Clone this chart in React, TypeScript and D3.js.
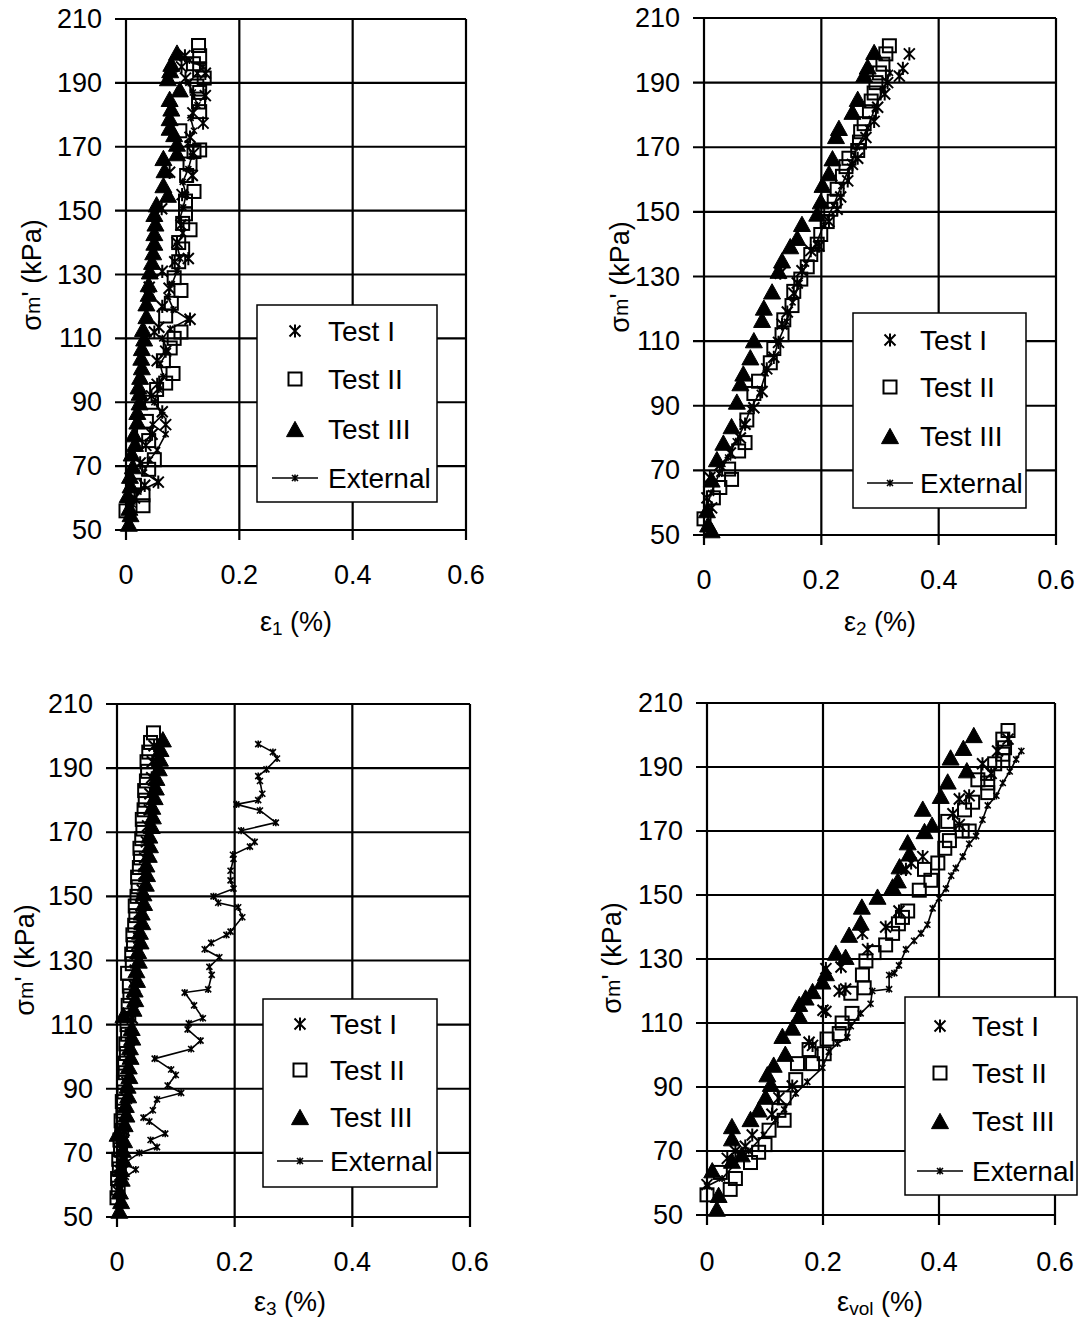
import React from 'react';
import * as d3 from 'd3';

type Pt = [number, number];

// Axis ticks shared by all four panels
const yTicks = [50, 70, 90, 110, 130, 150, 170, 190, 210];
const xTicks = [0, 0.2, 0.4, 0.6];
const xTickLabels = ['0', '0.2', '0.4', '0.6'];
const seriesNames = ['Test I', 'Test II', 'Test III', 'External'];

// ---- ε1 (%) vs σm' (kPa) ----
const e1TestI: Pt[] = [
  [0.015, 60], [0.033, 64], [0.057, 65], [0.025, 71], [0.035, 76.5], [0.046, 80], [0.07, 83],
  [0.064, 87], [0.045, 92], [0.055, 95.6], [0.055, 103], [0.07, 106], [0.05, 112], [0.058, 113.5],
  [0.113, 116], [0.064, 120], [0.076, 125.7], [0.041, 126], [0.064, 131], [0.086, 134], [0.11, 135],
  [0.09, 140], [0.097, 145.5], [0.063, 150.6], [0.099, 155], [0.117, 161], [0.077, 162], [0.119, 168],
  [0.113, 173], [0.136, 177.4], [0.118, 180.6], [0.14, 186], [0.105, 191.5], [0.14, 193], [0.098, 195],
  [0.104, 198.5],
];
const e1TestII: Pt[] = [
  [0, 56], [0.03, 57.6], [0.03, 61], [0.015, 64], [0.04, 69], [0.05, 72], [0.04, 78], [0.031, 80],
  [0.036, 84], [0.045, 90], [0.054, 94], [0.07, 96], [0.083, 99], [0.066, 103], [0.078, 107],
  [0.085, 110], [0.097, 112], [0.07, 117], [0.08, 121], [0.097, 125], [0.085, 129], [0.093, 134],
  [0.1, 138], [0.093, 140], [0.113, 144], [0.1, 146], [0.105, 149], [0.105, 153], [0.12, 156],
  [0.107, 161], [0.113, 164.6], [0.12, 168.5], [0.13, 169], [0.095, 175], [0.13, 181], [0.128, 184],
  [0.13, 187], [0.125, 189], [0.138, 191.5], [0.13, 194], [0.119, 196], [0.13, 198.5], [0.128, 201.7],
];
const e1TestIII: Pt[] = [
  [0.005, 52], [0.008, 55], [0.006, 57], [0.003, 61], [0.008, 64], [0.007, 67], [0.012, 70], [0.01, 74],
  [0.016, 77], [0.014, 80], [0.02, 84], [0.02, 87], [0.024, 90], [0.024, 93], [0.022, 95], [0.025, 98],
  [0.028, 101], [0.027, 104], [0.028, 107], [0.032, 110], [0.03, 113], [0.036, 117], [0.036, 121],
  [0.04, 124], [0.04, 127], [0.042, 131], [0.046, 134], [0.048, 137], [0.05, 140], [0.05, 143],
  [0.052, 146], [0.05, 149], [0.054, 152], [0.074, 155], [0.066, 158], [0.068, 162.7], [0.066, 166.5],
  [0.09, 168], [0.09, 171], [0.085, 174], [0.077, 176], [0.077, 179], [0.08, 182], [0.077, 185],
  [0.095, 188], [0.074, 191.5], [0.078, 194], [0.08, 196], [0.09, 199.5],
];
const e1External: Pt[] = [
  [0.012, 58], [0.022, 62], [0.057, 65], [0.032, 68], [0.042, 72], [0.055, 75], [0.07, 80],
  [0.047, 83], [0.064, 86], [0.05, 90], [0.058, 94], [0.066, 98], [0.06, 102], [0.074, 106],
  [0.064, 110], [0.078, 113], [0.11, 116], [0.084, 119], [0.074, 123], [0.081, 127], [0.09, 131],
  [0.096, 135], [0.09, 139], [0.1, 143], [0.094, 147], [0.101, 151], [0.106, 155], [0.1, 159],
  [0.11, 163], [0.116, 167], [0.109, 171], [0.12, 175], [0.114, 179], [0.126, 183], [0.118, 187],
  [0.11, 190], [0.126, 193], [0.136, 195], [0.112, 197],
];

// ---- ε2 (%) vs σm' (kPa) ----
const e2TestI: Pt[] = [
  [0.013, 58.4], [0.005, 61.5], [0.01, 67.8], [0.027, 71.6], [0.045, 75.4], [0.062, 80], [0.07, 84.3],
  [0.085, 89.4], [0.099, 94.4], [0.107, 101.4], [0.119, 105], [0.127, 109.6], [0.133, 115.3],
  [0.142, 119], [0.153, 124.8], [0.159, 128], [0.13, 131], [0.167, 131.8], [0.182, 138], [0.196, 139.4],
  [0.213, 147], [0.227, 150.8], [0.233, 154.6], [0.245, 159.6], [0.253, 164.7], [0.262, 166.6],
  [0.276, 173], [0.29, 178], [0.296, 182.4], [0.308, 186.5], [0.313, 190], [0.333, 192], [0.339, 194.4],
  [0.35, 198.9],
];
const e2TestII: Pt[] = [
  [0, 55], [0.016, 61.5], [0.027, 64.7], [0.042, 70.4], [0.047, 67.2], [0.059, 76], [0.07, 78.6],
  [0.073, 85.6], [0.085, 93.8], [0.093, 97.6], [0.113, 103.3], [0.119, 107.7], [0.133, 112],
  [0.136, 116.6], [0.15, 121], [0.153, 125.4], [0.165, 129.2], [0.176, 133], [0.182, 136.8],
  [0.193, 140], [0.199, 143], [0.21, 147], [0.216, 150.8], [0.222, 153.3], [0.227, 157], [0.236, 161],
  [0.242, 164], [0.247, 166.6], [0.262, 169], [0.265, 171.6], [0.267, 174.8], [0.273, 177.3],
  [0.282, 181], [0.285, 184.3], [0.29, 186.8], [0.293, 190], [0.299, 193], [0.305, 195.7],
  [0.31, 198.9], [0.316, 201.4],
];
const e2TestIII: Pt[] = [
  [0.013, 51.5], [0.007, 53.3], [0.005, 57.7], [0.013, 67.2], [0.022, 73.5], [0.033, 78.6],
  [0.047, 83.7], [0.056, 91.3], [0.062, 97], [0.067, 100], [0.079, 105], [0.085, 110.3], [0.099, 116.6],
  [0.102, 120.4], [0.116, 125.4], [0.127, 131.8], [0.133, 135], [0.147, 139.4], [0.159, 142],
  [0.167, 146.3], [0.193, 149.5], [0.199, 153.3], [0.202, 158.4], [0.213, 162], [0.219, 166.6],
  [0.225, 173.5], [0.23, 176], [0.253, 181], [0.262, 185], [0.273, 192.5], [0.279, 195], [0.29, 199.5],
];
const e2External: Pt[] = [
  [0.004, 58], [0.012, 63], [0.026, 69], [0.041, 74], [0.054, 79], [0.069, 84], [0.079, 89],
  [0.095, 94], [0.105, 100], [0.119, 105], [0.127, 110], [0.141, 116], [0.151, 122], [0.163, 128],
  [0.174, 134], [0.191, 140], [0.204, 146], [0.221, 152], [0.234, 158], [0.249, 164], [0.261, 170],
  [0.279, 176], [0.291, 182], [0.306, 188], [0.317, 193],
];

// ---- ε3 (%) vs σm' (kPa) ----
const e3TestI: Pt[] = [
  [0.002, 58], [0.005, 63], [0.008, 67], [0.009, 72], [0.012, 77], [0.013, 82], [0.016, 87],
  [0.017, 92], [0.02, 97], [0.021, 102], [0.023, 107], [0.026, 112], [0.027, 117], [0.03, 122],
  [0.031, 127], [0.034, 132], [0.037, 137], [0.038, 142], [0.041, 147], [0.043, 152], [0.046, 157],
  [0.047, 162], [0.05, 167], [0.052, 172], [0.055, 177], [0.056, 182], [0.059, 187], [0.06, 192],
  [0.063, 197],
];
const e3TestII: Pt[] = [
  [0, 56], [0.002, 59], [0.001, 62], [0.004, 65], [0.003, 68], [0.006, 71], [0.005, 74], [0.008, 77],
  [0.007, 80], [0.01, 83], [0.009, 86], [0.012, 89], [0.011, 92], [0.014, 95], [0.013, 98], [0.016, 101],
  [0.015, 104], [0.018, 107], [0.017, 110], [0.02, 113], [0.019, 116], [0.022, 119], [0.021, 122],
  [0.018, 126], [0.026, 129], [0.025, 132], [0.028, 135], [0.027, 138], [0.03, 141], [0.032, 144],
  [0.031, 147], [0.034, 150], [0.036, 153], [0.035, 156], [0.038, 159], [0.04, 162], [0.039, 165],
  [0.042, 168], [0.044, 171], [0.043, 174], [0.046, 177], [0.048, 180], [0.047, 183], [0.05, 186],
  [0.052, 189], [0.051, 192], [0.054, 195], [0.057, 198], [0.062, 201],
];
const e3TestIII: Pt[] = [
  [0.004, 52], [0.007, 55], [0.005, 58], [0.008, 62], [0.007, 65], [0.011, 68], [0.01, 71], [0.012, 74],
  [0.001, 76], [0.013, 79], [0.016, 82], [0.015, 85], [0.019, 88], [0.018, 91], [0.021, 94], [0.02, 97],
  [0.023, 100], [0.022, 103], [0.026, 106], [0.025, 109], [0.011, 113], [0.028, 115], [0.031, 118],
  [0.03, 121], [0.034, 124], [0.033, 127], [0.037, 130], [0.036, 133], [0.04, 136], [0.039, 139],
  [0.043, 142], [0.042, 145], [0.046, 148], [0.045, 151], [0.049, 154], [0.051, 157], [0.05, 160],
  [0.054, 163], [0.056, 166], [0.055, 169], [0.059, 172], [0.061, 175], [0.06, 178], [0.064, 181],
  [0.066, 184], [0.067, 187], [0.071, 190], [0.073, 193], [0.074, 196], [0.078, 199],
];
const e3External: Pt[] = [
  [0.005, 60], [0.015, 62.5], [0.032, 64.8], [0.0125, 66.7], [0.038, 70], [0.068, 71.8], [0.057, 74],
  [0.082, 76], [0.055, 79.8], [0.045, 81], [0.061, 83.3], [0.068, 86.7], [0.109, 88.7], [0.086, 91],
  [0.1, 94.3], [0.092, 96], [0.064, 99.4], [0.126, 102.4], [0.142, 105], [0.12, 108.5], [0.122, 110.4],
  [0.146, 112], [0.131, 116], [0.115, 120], [0.155, 121], [0.161, 125.5], [0.157, 128], [0.174, 131],
  [0.149, 133.5], [0.16, 135.5], [0.186, 138], [0.193, 139], [0.213, 143.5], [0.206, 146.6],
  [0.172, 148], [0.164, 150], [0.198, 152.4], [0.193, 155], [0.193, 158], [0.198, 161.7], [0.197, 163],
  [0.226, 165.5], [0.234, 167], [0.211, 170.5], [0.27, 173], [0.243, 176.8], [0.203, 178.7], [0.24, 180],
  [0.247, 182], [0.243, 186], [0.24, 187.5], [0.254, 189.6], [0.272, 193], [0.265, 195], [0.24, 197.5],
];

// ---- εvol (%) vs σm' (kPa) ----
const evTestI: Pt[] = [
  [0, 59.5], [0.035, 67.7], [0.049, 70], [0.066, 71.5], [0.078, 75], [0.112, 81.5], [0.124, 86.6],
  [0.147, 90.3], [0.176, 104], [0.182, 103], [0.2, 114], [0.205, 113.6], [0.228, 120], [0.239, 120.6],
  [0.205, 127], [0.231, 127.5], [0.277, 133], [0.268, 138], [0.308, 140], [0.331, 145], [0.343, 158],
  [0.352, 160], [0.372, 162], [0.435, 172], [0.424, 175.4], [0.435, 180], [0.452, 181], [0.49, 188],
  [0.475, 191], [0.501, 195], [0.519, 198.7],
];
const evTestII: Pt[] = [
  [0, 56.3], [0.04, 58], [0.049, 61.4], [0.023, 63.3], [0.075, 66.4], [0.089, 69.6], [0.1, 72],
  [0.107, 76.5], [0.133, 79.6], [0.124, 82.7], [0.133, 86.6], [0.153, 92.3], [0.156, 97.3],
  [0.182, 97.3], [0.202, 100.4], [0.176, 101.7], [0.207, 105], [0.228, 106.7], [0.233, 110], [0.25, 113],
  [0.248, 119.3], [0.271, 121], [0.268, 125], [0.274, 129.4], [0.288, 132], [0.308, 134.4], [0.32, 138],
  [0.33, 141], [0.337, 143], [0.346, 145], [0.366, 151.5], [0.386, 154.6], [0.375, 158], [0.398, 160],
  [0.41, 164.6], [0.418, 167], [0.44, 170], [0.452, 170], [0.415, 173], [0.444, 176.6], [0.458, 179],
  [0.484, 182], [0.484, 185], [0.467, 186], [0.484, 188], [0.496, 191], [0.51, 192], [0.51, 194],
  [0.513, 196], [0.51, 198.7], [0.519, 201.4],
];
const evTestIII: Pt[] = [
  [0.017, 52], [0.02, 56.3], [0.009, 64], [0.043, 67], [0.06, 69], [0.043, 74], [0.043, 77.8],
  [0.075, 80], [0.089, 83], [0.101, 87], [0.11, 91], [0.104, 94], [0.115, 97], [0.135, 100.4],
  [0.13, 106], [0.147, 108.6], [0.159, 112.4], [0.159, 116], [0.17, 118], [0.182, 120], [0.199, 123],
  [0.205, 125.6], [0.239, 130.7], [0.222, 132], [0.245, 137.6], [0.265, 141.4], [0.267, 146.4],
  [0.294, 149.5], [0.32, 152.7], [0.329, 154.6], [0.332, 159], [0.349, 163], [0.346, 166.5],
  [0.375, 170], [0.388, 172], [0.372, 177], [0.403, 181], [0.415, 185.5], [0.448, 189], [0.42, 193],
  [0.442, 196], [0.46, 200],
];
const evExternal: Pt[] = [
  [0, 59], [0.026, 61.4], [0.049, 66], [0.072, 70], [0.098, 75], [0.118, 79.6], [0.133, 83],
  [0.153, 88], [0.173, 91.6], [0.199, 96], [0.21, 101], [0.225, 103.6], [0.242, 105.5], [0.248, 109],
  [0.265, 113], [0.282, 116], [0.285, 120], [0.314, 120.6], [0.314, 125], [0.323, 125.6], [0.331, 128],
  [0.343, 133], [0.357, 135.7], [0.369, 138], [0.38, 140.7], [0.389, 145.8], [0.4, 149], [0.412, 152],
  [0.421, 156], [0.429, 158.4], [0.441, 162], [0.452, 166], [0.464, 168.4], [0.475, 173.5], [0.484, 178],
  [0.499, 181], [0.51, 185], [0.522, 188.6], [0.533, 192.4], [0.542, 195],
];

// Frame geometry of each panel (pixels)
interface Frame {
  left: number; right: number; top: number; bottom: number;
  xTickY: number; xTitleX: number; xTitleY: number;
  yTitleX: number; yTitleY: number;
  legend: { x: number; y: number; w: number; h: number; rows: number[]; markerX: number; textX: number };
}

interface PanelDef {
  sub: string;
  series: [Pt[], Pt[], Pt[], Pt[]];
  frame: Frame;
}

const panels: PanelDef[] = [
  {
    sub: '1',
    series: [e1TestI, e1TestII, e1TestIII, e1External],
    frame: {
      left: 126, right: 466, top: 19, bottom: 530, xTickY: 575, xTitleX: 296, xTitleY: 622,
      yTitleX: 32, yTitleY: 275,
      legend: { x: 257, y: 305, w: 180, h: 197, rows: [331, 379, 429, 478], markerX: 295, textX: 328 },
    },
  },
  {
    sub: '2',
    series: [e2TestI, e2TestII, e2TestIII, e2External],
    frame: {
      left: 704, right: 1056, top: 18, bottom: 535, xTickY: 580, xTitleX: 880, xTitleY: 622,
      yTitleX: 620, yTitleY: 277,
      legend: { x: 853, y: 313, w: 173, h: 195, rows: [340, 387, 436, 483], markerX: 890, textX: 920 },
    },
  },
  {
    sub: '3',
    series: [e3TestI, e3TestII, e3TestIII, e3External],
    frame: {
      left: 117, right: 470, top: 704, bottom: 1217, xTickY: 1262, xTitleX: 290, xTitleY: 1302,
      yTitleX: 25, yTitleY: 960,
      legend: { x: 263, y: 999, w: 174, h: 188, rows: [1024, 1070, 1117, 1161], markerX: 300, textX: 330 },
    },
  },
  {
    sub: 'vol',
    series: [evTestI, evTestII, evTestIII, evExternal],
    frame: {
      left: 707, right: 1055, top: 703, bottom: 1215, xTickY: 1262, xTitleX: 880, xTitleY: 1302,
      yTitleX: 612, yTitleY: 958,
      legend: { x: 905, y: 997, w: 172, h: 198, rows: [1026, 1073, 1121, 1171], markerX: 940, textX: 972 },
    },
  },
];

const FONT = "'Liberation Sans', Arial, sans-serif";

function Asterisk({ x, y, r, w }: { x: number; y: number; r: number; w: number }) {
  const d = `M${x - r},${y - r}L${x + r},${y + r}M${x - r},${y + r}L${x + r},${y - r}M${x},${y - r * 1.2}L${x},${y + r * 1.2}`;
  return <path d={d} stroke="#000" strokeWidth={w} fill="none" />;
}

function Square({ x, y, s }: { x: number; y: number; s: number }) {
  return <rect x={x - s / 2} y={y - s / 2} width={s} height={s} fill="none" stroke="#000" strokeWidth={2} />;
}

function Triangle({ x, y, s }: { x: number; y: number; s: number }) {
  const h = s * 0.9;
  const d = `M${x},${y - h / 2}L${x + s / 2},${y + h / 2}L${x - s / 2},${y + h / 2}Z`;
  return <path d={d} fill="#000" stroke="#000" strokeWidth={1} />;
}

function Panel({ def }: { def: PanelDef }) {
  const f = def.frame;
  const x = d3.scaleLinear().domain([0, 0.6]).range([f.left, f.right]);
  const y = d3.scaleLinear().domain([50, 210]).range([f.bottom, f.top]);
  const line = d3.line<Pt>().x((d) => x(d[0])).y((d) => y(d[1]));
  const [sI, sII, sIII, sExt] = def.series;
  const L = f.legend;

  return (
    <g>
      {/* gridlines */}
      {yTicks.map((t) => (
        <line key={'gy' + t} x1={f.left - 11} x2={f.right} y1={y(t)} y2={y(t)} stroke="#000" strokeWidth={2.2} />
      ))}
      {xTicks.map((t) => (
        <line key={'gx' + t} x1={x(t)} x2={x(t)} y1={f.top} y2={f.bottom + 10} stroke="#000" strokeWidth={2.2} />
      ))}
      {/* tick labels */}
      {yTicks.map((t) => (
        <text key={'ly' + t} x={f.left - 24} y={y(t)} textAnchor="end" dominantBaseline="central"
          fontFamily={FONT} fontSize={27}>{t}</text>
      ))}
      {xTicks.map((t, i) => (
        <text key={'lx' + t} x={x(t)} y={f.xTickY} textAnchor="middle" dominantBaseline="central"
          fontFamily={FONT} fontSize={27}>{xTickLabels[i]}</text>
      ))}
      {/* axis titles */}
      <text x={f.xTitleX} y={f.xTitleY} textAnchor="middle" dominantBaseline="central" fontFamily={FONT} fontSize={27}>
        ε<tspan fontSize={19} dy={6}>{def.sub}</tspan><tspan dy={-6}> (%)</tspan>
      </text>
      <text transform={`translate(${f.yTitleX},${f.yTitleY}) rotate(-90)`} textAnchor="middle"
        dominantBaseline="central" fontFamily={FONT} fontSize={27}>
        σ<tspan fontSize={21}>m</tspan>' (kPa)
      </text>
      {/* data */}
      <g>
        {sI.map((d, i) => <Asterisk key={'a' + i} x={x(d[0])} y={y(d[1])} r={5.5} w={2} />)}
      </g>
      <g>
        {sII.map((d, i) => <Square key={'s' + i} x={x(d[0])} y={y(d[1])} s={13} />)}
      </g>
      <g>
        {sIII.map((d, i) => <Triangle key={'t' + i} x={x(d[0])} y={y(d[1])} s={17} />)}
      </g>
      <g>
        <path d={line(sExt) || ''} fill="none" stroke="#000" strokeWidth={1.6} />
        {sExt.map((d, i) => <Asterisk key={'e' + i} x={x(d[0])} y={y(d[1])} r={3} w={1.6} />)}
      </g>
      {/* legend */}
      <rect x={L.x} y={L.y} width={L.w} height={L.h} fill="#fff" stroke="#000" strokeWidth={1.5} />
      <Asterisk x={L.markerX} y={L.rows[0]} r={5.5} w={2} />
      <Square x={L.markerX} y={L.rows[1]} s={13} />
      <Triangle x={L.markerX} y={L.rows[2]} s={17} />
      <line x1={L.markerX - 23} x2={L.markerX + 23} y1={L.rows[3]} y2={L.rows[3]} stroke="#000" strokeWidth={1.6} />
      <Asterisk x={L.markerX} y={L.rows[3]} r={3} w={1.6} />
      {seriesNames.map((n, i) => (
        <text key={n} x={L.textX} y={L.rows[i]} dominantBaseline="central" fontFamily={FONT} fontSize={28}>{n}</text>
      ))}
    </g>
  );
}

export default function App() {
  return (
    <svg width={1083} height={1320} style={{ position: 'absolute', left: 0, top: 0, background: '#fff' }}>
      <rect x={0} y={0} width={1083} height={1320} fill="#fff" />
      {panels.map((p) => <Panel key={p.sub} def={p} />)}
    </svg>
  );
}
